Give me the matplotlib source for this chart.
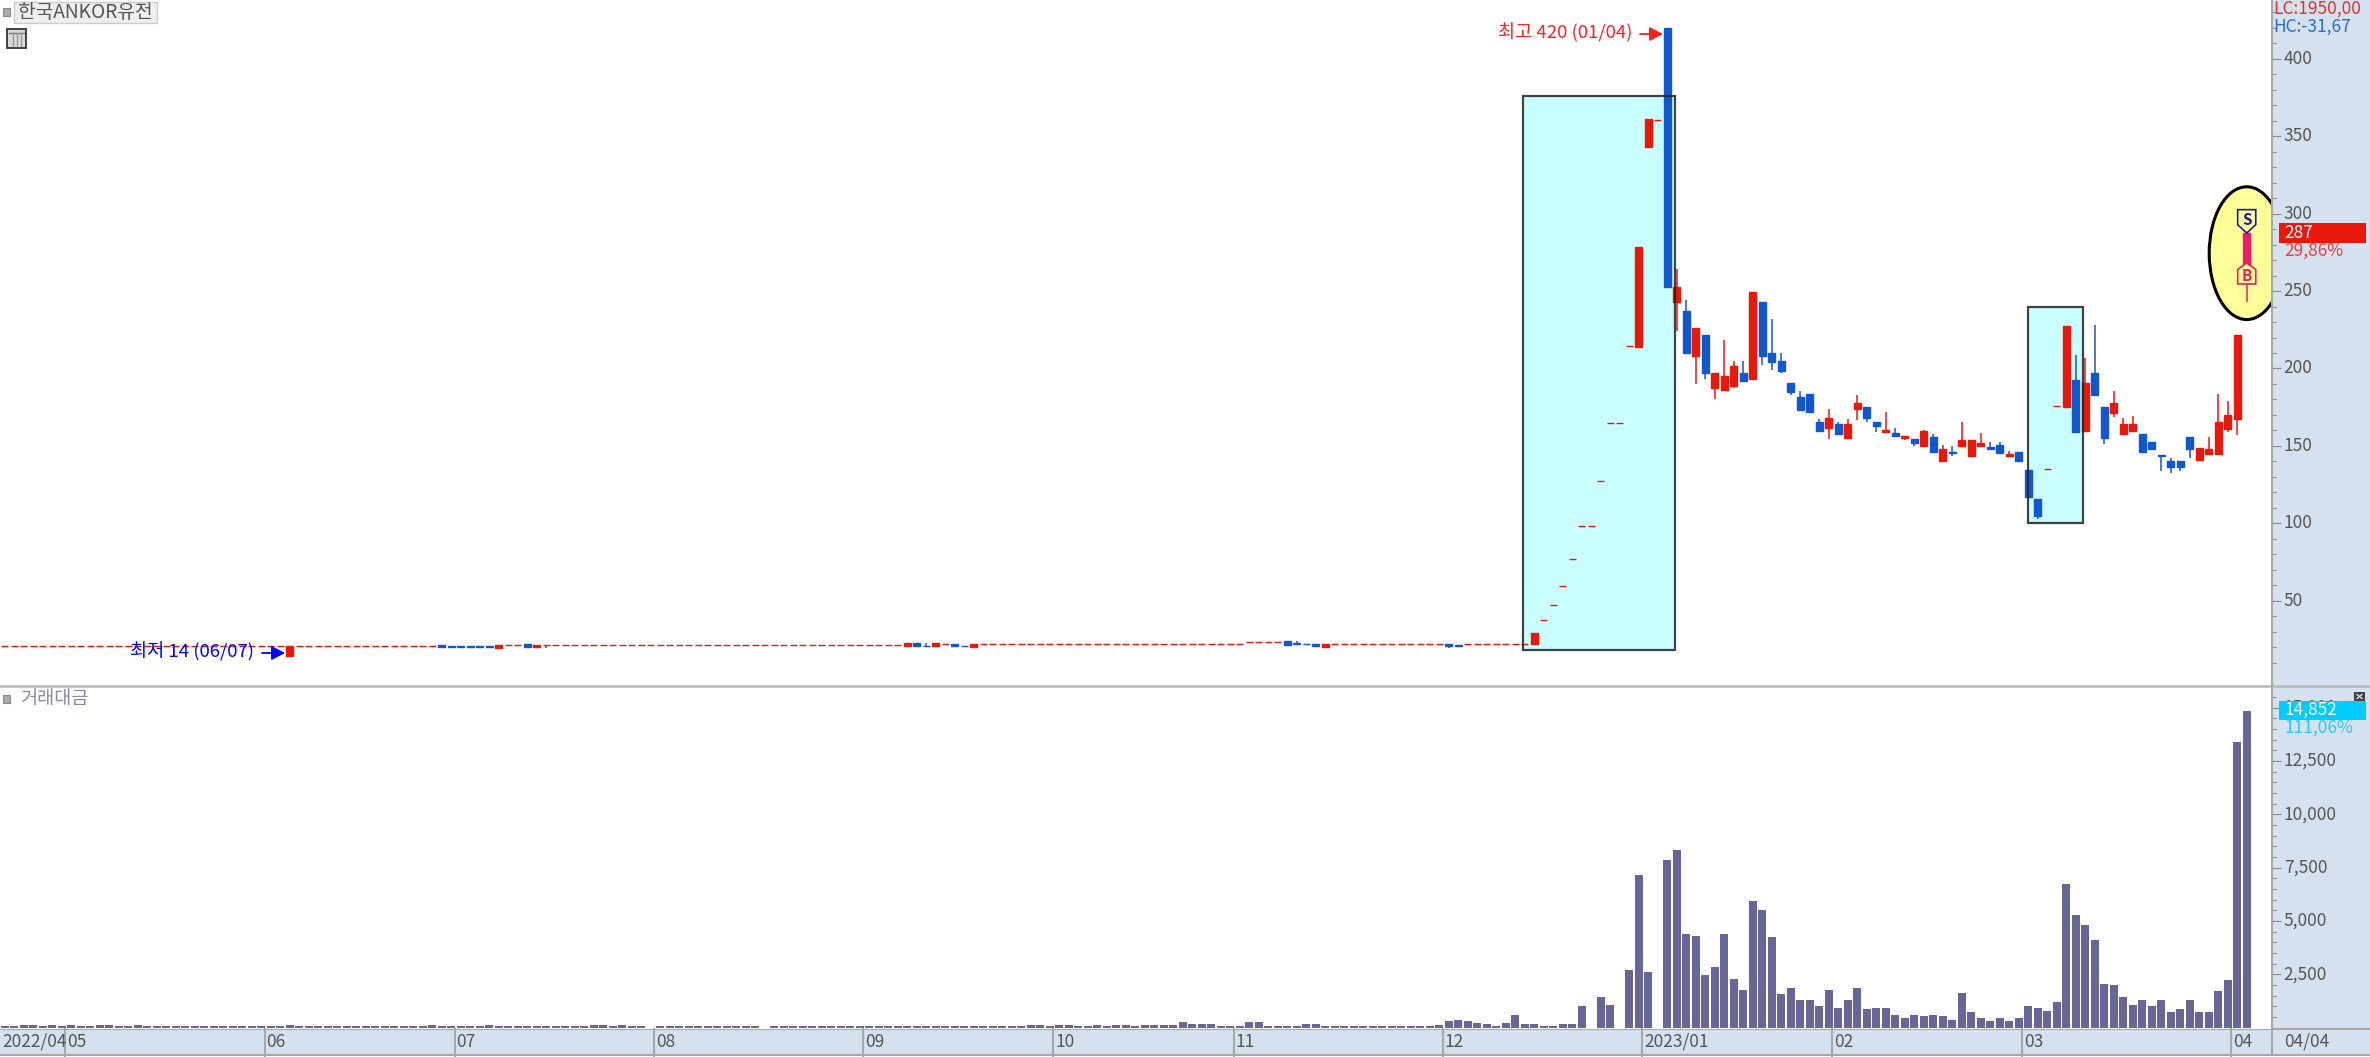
import matplotlib
matplotlib.use('Agg')
import matplotlib.pyplot as plt
from matplotlib.patches import Rectangle, Ellipse, Polygon
from matplotlib.transforms import ScaledTranslation

plt.rcParams['font.family'] = ['Noto Sans CJK KR', 'DejaVu Sans']

W, H = 2370, 1057

# flat stretch, one session per bar (open / close)
early_open = [
    20.6, 20.6, 20.6, 20.6, 20.6, 20.6, 20.6, 20.6, 20.6, 20.6,
    20.6, 20.6, 20.6, 20.6, 20.6, 20.6, 20.6, 20.6, 20.6, 20.6,
    20.6, 20.6, 20.6, 20.6, 20.6, 20.6, 20.6, 20.6, 20.6, 20.6,
    14.4, 20.5, 20.5, 20.5, 20.5, 20.5, 20.5, 20.5, 20.5, 20.5,
    20.5, 20.5, 20.5, 20.5, 20.5, 20.5, 21.4, 20.5, 20.5, 20.5,
    20.5, 20.5, 19.6, 21.1, 21.1, 21.7, 20.0, 21.2, 21.1, 21.1,
    21.1, 21.1, 21.1, 21.1, 21.1, 21.1, 21.1, 21.1, 21.1, 21.1,
    21.1, 21.1, 21.1, 21.1, 21.1, 21.1, 21.1, 21.1, 21.1, 21.1,
    21.1, 21.1, 21.1, 21.1, 21.1, 21.1, 21.1, 21.1, 21.1, 21.1,
    21.1, 21.1, 21.1, 21.1, 21.1, 20.5, 22.4, 21.0, 20.4, 22.2,
    22.3, 21.0, 20.2, 21.9, 21.9, 21.9, 21.9, 21.9, 21.9, 21.9,
    21.9, 21.9, 21.9, 21.9, 21.9, 21.9, 21.9, 21.9, 21.9, 21.9,
    21.9, 21.9, 21.9, 21.9, 21.9, 21.9, 21.9, 21.9, 21.9, 21.9,
    21.9, 23.2, 23.2, 23.2, 23.2, 23.9, 22.5, 22.2, 22.3, 20.3,
    21.9, 21.9, 21.9, 21.9, 21.9, 21.9, 21.9, 21.9, 21.9, 21.9,
    21.9, 21.9, 22.3, 21.2, 21.9, 21.9, 21.9, 21.9, 21.9, 21.9, 21.9]
early_close = [
    20.6, 20.6, 20.6, 20.6, 20.6, 20.6, 20.6, 20.6, 20.6, 20.6,
    20.6, 20.6, 20.6, 20.6, 20.6, 20.6, 20.6, 20.6, 20.6, 20.6,
    20.6, 20.6, 20.6, 20.6, 20.6, 20.6, 20.6, 20.6, 20.6, 20.6,
    20.8, 20.5, 20.5, 20.5, 20.5, 20.5, 20.5, 20.5, 20.5, 20.5,
    20.5, 20.5, 20.5, 20.5, 20.5, 20.5, 20.2, 20.2, 20.2, 20.2,
    20.2, 20.2, 21.6, 21.1, 21.1, 20.2, 21.5, 21.2, 21.1, 21.1,
    21.1, 21.1, 21.1, 21.1, 21.1, 21.1, 21.1, 21.1, 21.1, 21.1,
    21.1, 21.1, 21.1, 21.1, 21.1, 21.1, 21.1, 21.1, 21.1, 21.1,
    21.1, 21.1, 21.1, 21.1, 21.1, 21.1, 21.1, 21.1, 21.1, 21.1,
    21.1, 21.1, 21.1, 21.1, 21.1, 22.4, 20.6, 20.7, 22.4, 22.2,
    20.4, 20.7, 22.2, 21.9, 21.9, 21.9, 21.9, 21.9, 21.9, 21.9,
    21.9, 21.9, 21.9, 21.9, 21.9, 21.9, 21.9, 21.9, 21.9, 21.9,
    21.9, 21.9, 21.9, 21.9, 21.9, 21.9, 21.9, 21.9, 21.9, 21.9,
    21.9, 23.2, 23.2, 23.2, 23.2, 21.4, 21.8, 21.8, 20.4, 22.1,
    21.9, 21.9, 21.9, 21.9, 21.9, 21.9, 21.9, 21.9, 21.9, 21.9,
    21.9, 21.9, 20.4, 20.8, 21.9, 21.9, 21.9, 21.9, 21.9, 21.9, 21.9]
early_volume = [
    60, 60, 140, 140, 60, 140, 60, 140, 60, 60,
    140, 140, 60, 60, 140, 60, 60, 60, 60, 60,
    60, 60, 60, 60, 60, 60, 60, 60, 60, 60,
    140, 60, 60, 60, 60, 60, 60, 60, 60, 60,
    60, 60, 60, 60, 60, 140, 60, 60, 60, 60,
    60, 140, 60, 60, 60, 60, 60, 60, 60, 60,
    60, 60, 140, 140, 60, 140, 60, 60, 0, 60,
    60, 60, 60, 60, 60, 60, 60, 60, 60, 60,
    0, 60, 60, 60, 60, 60, 60, 60, 60, 60,
    60, 60, 60, 60, 60, 60, 60, 60, 60, 60,
    60, 60, 60, 60, 60, 60, 60, 60, 140, 140,
    60, 140, 140, 60, 60, 140, 60, 140, 140, 60,
    140, 140, 140, 140, 260, 150, 150, 150, 60, 60,
    60, 280, 280, 60, 60, 60, 60, 150, 150, 60,
    60, 60, 60, 60, 60, 60, 60, 60, 60, 60,
    60, 140, 297, 360, 297, 219, 141, 78, 219, 578, 141]
early_wick_idx = [30, 57, 97, 136, 152]
early_wick_hi = [20.8, 21.2, 22.6, 23.9, 22.3]
early_wick_lo = [14.0, 19.4, 20.7, 21.8, 19.3]

# the run-up and after (from 2022/12)
late_open = [22.1, 37.2, 46.9, 59.6, 76.8, 98.1, 98.1, 127.3, 164.9, 164.9,
             214.4, 214.0, 343.4, 360.4, 420.0, 243.0, 237.0, 208.0, 221.5, 187.7,
             185.8, 188.6, 197.0, 193.5, 242.8, 209.7, 204.7, 190.5, 181.7, 183.6,
             165.1, 161.7, 164.3, 154.8, 173.5, 175.0, 165.4, 158.7, 158.5, 155.0,
             154.6, 150.1, 155.7, 140.4, 146.0, 150.1, 143.2, 150.1, 149.0, 150.7,
             143.2, 146.0, 134.4, 115.9, 134.8, 175.7, 175.3, 192.5, 159.6, 197.2,
             175.0, 171.4, 157.8, 159.6, 157.6, 152.7, 144.0, 140.2, 140.2, 155.7,
             141.1, 144.9, 144.9, 160.6, 167.3, 255.0]
late_high = [28.8, 37.2, 46.9, 59.6, 76.8, 98.1, 98.1, 127.3, 164.9, 164.9,
             214.4, 278.5, 361.0, 360.4, 420.0, 264.3, 244.0, 226.2, 221.5, 197.0,
             218.5, 205.1, 205.1, 249.4, 242.8, 232.0, 209.9, 190.5, 185.6, 183.6,
             167.3, 174.0, 165.4, 167.3, 182.8, 175.0, 165.4, 172.0, 161.3, 156.5,
             154.6, 160.4, 157.6, 150.7, 149.7, 165.4, 153.7, 158.5, 152.7, 152.7,
             146.9, 146.0, 134.4, 115.9, 134.8, 175.7, 227.3, 208.8, 206.9, 228.1,
             175.0, 185.6, 168.2, 169.2, 157.6, 152.7, 144.0, 142.1, 140.2, 155.7,
             148.8, 155.7, 183.6, 178.9, 221.5, 287.5]
late_low = [22.1, 37.2, 46.9, 59.6, 76.8, 98.1, 98.1, 127.3, 164.9, 164.9,
            214.4, 214.0, 343.4, 360.4, 252.7, 224.5, 210.0, 189.7, 193.5, 180.0,
            185.8, 187.5, 191.6, 193.5, 202.1, 199.3, 197.2, 182.8, 173.3, 172.2,
            159.8, 154.6, 156.8, 154.8, 166.4, 165.4, 158.7, 158.7, 155.7, 153.7,
            149.9, 150.1, 146.2, 140.4, 143.2, 150.1, 143.2, 150.1, 148.0, 145.1,
            143.2, 140.4, 117.2, 102.6, 134.8, 175.7, 175.3, 158.7, 159.6, 181.9,
            150.9, 168.4, 157.8, 158.7, 146.2, 147.1, 133.5, 132.4, 133.5, 142.1,
            141.1, 144.0, 144.9, 158.7, 156.8, 243.0]
late_close = [28.8, 37.2, 46.9, 59.6, 76.8, 98.1, 98.1, 127.3, 164.9, 164.9,
              214.4, 278.5, 361.0, 360.4, 252.7, 252.5, 210.0, 226.2, 197.2, 197.0,
              195.3, 201.9, 191.6, 249.4, 208.2, 204.3, 198.3, 184.9, 173.3, 172.2,
              159.8, 168.2, 157.6, 164.3, 177.8, 167.7, 162.6, 160.4, 156.5, 156.5,
              151.8, 159.6, 146.2, 148.0, 145.1, 153.7, 153.7, 151.8, 148.0, 145.1,
              144.9, 140.4, 117.2, 104.5, 134.8, 175.7, 227.3, 158.7, 190.3, 182.8,
              154.8, 177.8, 164.3, 164.3, 146.2, 148.0, 143.4, 136.3, 136.3, 148.0,
              148.8, 148.0, 165.4, 170.1, 221.5, 287.5]
late_volume = [141, 78, 78, 141, 141, 1000, 0, 1422, 1078, 0,
               2688, 7127, 2610, 0, 7830, 8315, 4376, 4298, 2470, 2829,
               4376, 2266, 1766, 5924, 5502, 4236, 1563, 1844, 1282, 1282,
               1000, 1766, 922, 1282, 1844, 860, 922, 922, 578, 438,
               578, 516, 578, 516, 360, 1641, 719, 438, 297, 438,
               297, 438, 1000, 922, 781, 1204, 6705, 5283, 4798, 4095,
               2063, 1985, 1422, 1078, 1282, 1000, 1282, 719, 860, 1282,
               719, 719, 1704, 2204, 13395, 14852]

price_ticks = [50, 100, 150, 200, 250, 300, 350, 400]
volume_ticks = [2500, 5000, 7500, 10000, 12500, 15000]
volume_labels = ['2,500', '5,000', '7,500', '10,000', '12,500', '15,000']
month_start = [7, 28, 48, 69, 91, 111, 130, 152, 173, 193, 213, 235]
month_labels = ['05', '06', '07', '08', '09', '10', '11', '12', '2023/01', '02', '03', '04']

opens = early_open + late_open
closes = early_close + late_close
volumes = early_volume + late_volume
highs = [max(o, c) for o, c in zip(early_open, early_close)] + late_high
lows = [min(o, c) for o, c in zip(early_open, early_close)] + late_low
for i, hi, lo in zip(early_wick_idx, early_wick_hi, early_wick_lo):
    highs[i] = hi
    lows[i] = lo
x = list(range(len(opens)))
last = x[-1]

RED = '#e8180a'
BLUE = '#1058cc'
PINK = '#ea1e68'
PANEL = '#d6e1ef'
LINE = '#a8a8a8'
GREY = '#555555'
SIZE = 12.5
NOTE_SIZE = 13.4

colors = [RED if c >= o else BLUE for o, c in zip(opens, closes)]
colors[last] = PINK

fig = plt.figure(figsize=(W / 100, H / 100), dpi=100, facecolor='white')


def pane(top, bottom, right=2272):
    return fig.add_axes([0, 1 - bottom / H, right / W, (bottom - top) / H])


# background panels, pixel coords
bg = fig.add_axes([0, 0, 1, 1], zorder=-1)
bg.set_xlim(0, W)
bg.set_ylim(H, 0)
bg.axis('off')
bg.add_patch(Rectangle((2272, 0), 98, 1055, fc=PANEL, ec='none'))
bg.add_patch(Rectangle((0, 1029), 2272, 26, fc=PANEL, ec='none'))
bg.plot([0, 2370], [686, 686], color='#b8b8b8', lw=1.8)
bg.plot([0, 2370], [1055, 1055], color=LINE, lw=1.5)
bg.plot([0, 2370], [1029, 1029], color=LINE, lw=1.5)

ax = pane(0, 685)
vol = pane(688, 1029)

# main chart
ax.set_xlim(-0.495, 238.66)
ax.set_ylim(-4.5, 438.06)
body_low = [min(o, c) for o, c in zip(opens, closes)]
body_h = [abs(o - c) for o, c in zip(opens, closes)]

ax.add_patch(Rectangle((159.85, 18.1), 16, 358, fc='#c9ffff', ec='none', zorder=1))
ax.add_patch(Rectangle((212.95, 100), 5.85, 139.4, fc='#c9ffff', ec='none', zorder=1))
ax.add_patch(Ellipse((236, 274.5), 7.9, 85.8, fc='#ffff99', ec='black', lw=2.2, zorder=1))

ax.vlines(x, lows, highs, colors=colors, lw=1.1, zorder=2)
ax.bar(x, body_h, bottom=body_low, width=0.7, color=colors, edgecolor=colors,
       linewidth=1.0, zorder=3)

ax.add_patch(Rectangle((159.85, 18.1), 16, 358, fc='none', ec='#222222', lw=1.6, alpha=0.85, zorder=4))
ax.add_patch(Rectangle((212.95, 100), 5.85, 139.4, fc='none', ec='#222222', lw=1.6, alpha=0.85, zorder=4))

# S / B signals on the last bar
ax.add_patch(Polygon([(235.05, 302.6), (236.95, 302.6), (236.95, 292.9), (236, 287.5), (235.05, 292.9)],
                     fc='#ffff99', ec='#1a1aa0', lw=1.2, zorder=5))
ax.add_patch(Polygon([(235.05, 254.6), (236.95, 254.6), (236.95, 263.9), (236, 268.2), (235.05, 263.9)],
                     fc='#ffff99', ec=PINK, lw=1.2, zorder=5))
ax.text(236, 295.7, 'S', color='#1a1aa0', fontsize=11, fontweight='bold', ha='center', va='center', zorder=6)
ax.text(236, 260, 'B', color=PINK, fontsize=11, fontweight='bold', ha='center', va='center', zorder=6)

ax.set_xticks([])
ax.yaxis.tick_right()
ax.set_yticks(price_ticks)
ax.set_yticks([v for v in range(10, 431, 10) if v % 50], minor=True)
ax.tick_params(axis='y', which='major', length=6.5, width=0.8, color='#8a8a8a', labelcolor=GREY,
               labelsize=SIZE, pad=2)
ax.tick_params(axis='y', which='minor', length=3, width=0.8, color='#8a8a8a')

# volume chart
vol.set_xlim(-0.495, 238.66)
vol.set_ylim(-70, 15916)
vol.bar(x, volumes, width=0.8, color='#666699', linewidth=0)
vol.set_xticks([])
vol.yaxis.tick_right()
vol.set_yticks(volume_ticks)
vol.set_yticklabels(volume_labels)
vol.set_yticks([v for v in range(500, 15501, 500) if v % 2500], minor=True)
vol.tick_params(axis='y', which='major', length=6.5, width=0.8, color='#8a8a8a', labelcolor=GREY,
                labelsize=SIZE, pad=2)
vol.tick_params(axis='y', which='minor', length=3, width=0.8, color='#8a8a8a')

# the tick labels sit a touch above their ticks in the original
nudge = ScaledTranslation(0, 2 / 100, fig.dpi_scale_trans)
for a in (ax, vol):
    for label in a.get_yticklabels():
        label.set_transform(label.get_transform() + nudge)
    for name in ('top', 'left', 'bottom'):
        a.spines[name].set_visible(False)
    a.spines['right'].set_color(LINE)
    a.spines['right'].set_linewidth(1.5)

# date strip
date_tf = vol.get_xaxis_transform()
vol.text(0.001, -0.038, '2022/04', transform=vol.transAxes, color=GREY, fontsize=SIZE, ha='left', va='center')
for m, label in zip(month_start, month_labels):
    vol.plot([m - 0.65, m - 0.65], [0, -0.078], transform=date_tf, color=LINE, lw=1.5, clip_on=False)
    vol.annotate(label, (m - 0.65, -0.038), xycoords=date_tf, xytext=(1.5, 0), textcoords='offset points',
                 color=GREY, fontsize=SIZE, ha='left', va='center', annotation_clip=False)

# labels and tags on top, pixel coords
ui = fig.add_axes([0, 0, 1, 1], zorder=10)
ui.set_xlim(0, W)
ui.set_ylim(H, 0)
ui.axis('off')
ui.patch.set_visible(False)

ui.add_patch(Rectangle((3, 8), 7, 8, fc='#aaaaaa', ec='#888888', lw=0.8))
ui.add_patch(Rectangle((13.5, 1.5), 143, 21.5, fc='#eeeeee', ec='#cccccc', lw=1))
ui.text(18, 12, '한국ANKOR유전', color=GREY, fontsize=NOTE_SIZE + 0.4, ha='left', va='center')
ui.add_patch(Rectangle((7, 29), 19, 19, fc='#d8d8d8', ec='#333333', lw=1.3))
ui.plot([9, 24], [33, 33], color='#777777', lw=1)
ui.plot([13, 13], [33, 46], color='#999999', lw=1)
ui.plot([17, 17], [33, 46], color='#999999', lw=1)
ui.plot([21, 21], [33, 46], color='#999999', lw=1)

ui.add_patch(Rectangle((3, 695), 7, 8, fc='#aaaaaa', ec='#888888', lw=0.8))
ui.text(20, 699, '거래대금', color='#8888aa', fontsize=NOTE_SIZE, ha='left', va='center')

ui.text(1498, 33, '최고 420 (01/04)', color='#ff2020', fontsize=NOTE_SIZE, ha='left', va='center')
ui.annotate('', xy=(1663, 34), xytext=(1640, 34),
            arrowprops=dict(arrowstyle='-|>,head_width=0.42,head_length=0.8', color='#ff2020', lw=1.3, shrinkA=0, shrinkB=0))
ui.text(130, 652, '최저 14 (06/07)', color='#0000ff', fontsize=NOTE_SIZE, ha='left', va='center')
ui.annotate('', xy=(285, 653), xytext=(262, 653),
            arrowprops=dict(arrowstyle='-|>,head_width=0.42,head_length=0.8', color='#0000ff', lw=1.3, shrinkA=0, shrinkB=0))

ui.text(2273, 9, 'LC:1950,00', color='#e03030', fontsize=SIZE, ha='left', va='center')
ui.text(2273, 27, 'HC:-31,67', color='#2a6ad8', fontsize=SIZE, ha='left', va='center')

ui.add_patch(Rectangle((2279, 223), 87, 19.5, fc=RED, ec='none'))
ui.text(2284, 233, '287', color='white', fontsize=SIZE, ha='left', va='center')
ui.text(2284, 251, '29,86%', color='#e84040', fontsize=SIZE, ha='left', va='center')

ui.add_patch(Rectangle((2279, 700.5), 87, 19, fc='#00ccff', ec='none'))
ui.text(2284, 710, '14,852', color='white', fontsize=SIZE, ha='left', va='center')
ui.text(2284, 728, '111,06%', color='#22ccff', fontsize=SIZE, ha='left', va='center')
ui.add_patch(Rectangle((2354, 692), 11, 9, fc='#444444', ec='none'))
ui.plot([2357, 2362], [694.5, 698.5], color='white', lw=0.8)
ui.plot([2357, 2362], [698.5, 694.5], color='white', lw=0.8)

ui.plot([2272, 2272], [1029, 1055], color=LINE, lw=1.5)
ui.text(2284, 1042, '04/04', color=GREY, fontsize=SIZE, ha='left', va='center')

fig.savefig('out.png', dpi=100)
